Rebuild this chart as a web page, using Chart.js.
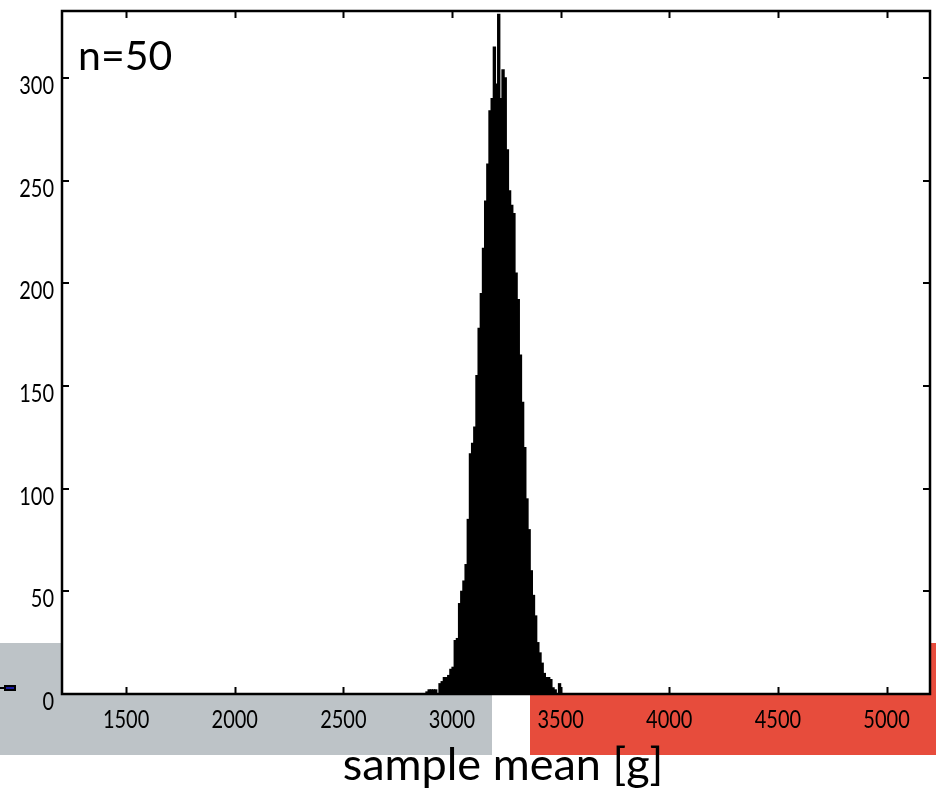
<!DOCTYPE html>
<html>
<head>
<meta charset="utf-8">
<title>sample mean histogram</title>
<script src="https://cdn.jsdelivr.net/npm/chart.js@4.4.1/dist/chart.umd.min.js"></script>
<style>
  html, body { margin: 0; padding: 0; background: #fff; }
  #wrap { width: 936px; height: 790px; }
</style>
</head>
<body>
<div id="wrap"><canvas id="hist" width="936" height="790"></canvas></div>
<script>
// bins (left edge, g) and counts
const binStart = [
  2880, 2890, 2900, 2910, 2920, 2930, 2940, 2950, 2960, 2970,
  2980, 2990, 3000, 3010, 3020, 3030, 3040, 3050, 3060, 3070,
  3080, 3090, 3100, 3110, 3120, 3130, 3140, 3150, 3160, 3170,
  3180, 3190, 3200, 3210, 3220, 3230, 3240, 3250, 3260, 3270,
  3280, 3290, 3300, 3310, 3320, 3330, 3340, 3350, 3360, 3370,
  3380, 3390, 3400, 3410, 3420, 3430, 3440, 3450, 3460, 3470,
  3480, 3490
];
const counts = [
  1, 2, 2, 2, 2, 0, 5, 6, 8, 8,
  9, 12, 13, 26, 27, 44, 50, 55, 63, 85,
  117, 122, 130, 155, 178, 195, 217, 240, 258, 284,
  290, 315, 297, 331, 290, 304, 300, 265, 245, 238,
  234, 205, 192, 165, 142, 120, 95, 80, 60, 48,
  38, 25, 20, 15, 10, 8, 8, 7, 3, 2,
  0, 5
];
const binWidth = 10;

const xTicks = [1500, 2000, 2500, 3000, 3500, 4000, 4500, 5000];
const yTicks = [0, 50, 100, 150, 200, 250, 300];
const xRange = [1205, 5200];
const yRange = [0, 332.6];

const annotation = 'n=50';
const xTitle = 'sample mean [g]';

// page decoration behind the plot (grey / red strips, little marker)
const backdrop = {
  id: 'backdrop',
  beforeDraw(chart) {
    const ctx = chart.ctx;
    const a = chart.chartArea;
    ctx.save();
    ctx.fillStyle = '#bdc3c7';
    ctx.fillRect(0, 643, 492, 112);
    ctx.fillStyle = '#e74c3c';
    ctx.fillRect(530, 643, 406, 112);
    // small marker on the left edge
    ctx.fillStyle = '#000';
    ctx.fillRect(0, 687, 5, 2);
    ctx.fillRect(4, 685, 12, 6);
    ctx.fillStyle = '#1a1aa0';
    ctx.fillRect(6, 687, 8, 2);
    ctx.fillStyle = '#fff';
    ctx.fillRect(a.left, a.top, a.right - a.left, a.bottom - a.top);
    ctx.restore();
  }
};

// frame with inward ticks on all four sides, labels, texts
const frame = {
  id: 'frame',
  afterDatasetsDraw(chart) {
    const ctx = chart.ctx;
    const a = chart.chartArea;
    const xs = chart.scales.x;
    const ys = chart.scales.y;
    const tl = 7;
    ctx.save();
    ctx.strokeStyle = '#000';
    ctx.lineWidth = 2;
    ctx.beginPath();
    xTicks.forEach(v => {
      const px = Math.round(xs.getPixelForValue(v)) + 0.5;
      ctx.moveTo(px, a.bottom); ctx.lineTo(px, a.bottom - tl);
      ctx.moveTo(px, a.top); ctx.lineTo(px, a.top + tl);
    });
    yTicks.forEach(v => {
      const py = Math.round(ys.getPixelForValue(v));
      ctx.moveTo(a.left, py); ctx.lineTo(a.left + tl, py);
      ctx.moveTo(a.right, py); ctx.lineTo(a.right - tl, py);
    });
    ctx.stroke();
    ctx.lineWidth = 2.5;
    ctx.strokeRect(a.left, a.top, a.right - a.left, a.bottom - a.top);

    // tick labels, narrow humanist look
    ctx.fillStyle = '#000';
    ctx.font = '25px Lato, "Noto Sans", sans-serif';
    ctx.textBaseline = 'middle';
    ctx.textAlign = 'center';
    xTicks.forEach(v => {
      ctx.save();
      ctx.translate(xs.getPixelForValue(v), 720);
      ctx.scale(0.8, 1);
      ctx.fillText(String(v), 0, 0);
      ctx.restore();
    });
    ctx.textAlign = 'right';
    yTicks.forEach(v => {
      ctx.save();
      ctx.translate(54, ys.getPixelForValue(v) + 8);
      ctx.scale(0.8, 1);
      ctx.fillText(String(v), 0, 0);
      ctx.restore();
    });

    ctx.textBaseline = 'alphabetic';
    ctx.textAlign = 'left';
    ctx.font = '41px Lato, "Noto Sans", sans-serif';
    ctx.fillText(annotation, 78, 70);
    ctx.textAlign = 'center';
    ctx.font = '45px Lato, "Noto Sans", sans-serif';
    ctx.fillText(xTitle, 503, 780);
    ctx.restore();
  }
};

new Chart(document.getElementById('hist'), {
  type: 'bar',
  data: {
    datasets: [{
      data: binStart.map((s, i) => ({ x: s + binWidth / 2, y: counts[i] })),
      backgroundColor: '#000',
      borderWidth: 0,
      inflateAmount: 0.6,
      barPercentage: 1,
      categoryPercentage: 1
    }]
  },
  options: {
    responsive: false,
    animation: false,
    devicePixelRatio: 1,
    layout: { padding: { left: 62, top: 11, right: 6, bottom: 96 } },
    plugins: { legend: { display: false }, tooltip: { enabled: false } },
    scales: {
      x: { type: 'linear', min: xRange[0], max: xRange[1], offset: false, display: false },
      y: { type: 'linear', min: yRange[0], max: yRange[1], display: false }
    }
  },
  plugins: [backdrop, frame]
});
</script>
</body>
</html>
